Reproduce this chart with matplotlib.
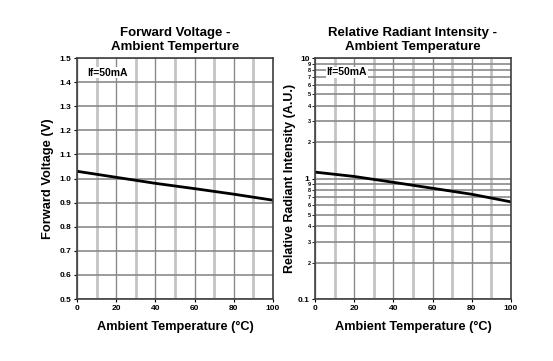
import numpy as np
import matplotlib.pyplot as plt
from matplotlib.ticker import FixedLocator, FixedFormatter

plt.rcParams['font.family'] = ['Liberation Sans', 'DejaVu Sans']
plt.rcParams['font.weight'] = 'bold'

## the data
temp = [0, 20, 40, 60, 80, 100]
vf = [1.03, 1.005, 0.98, 0.958, 0.935, 0.91]
intensity = [1.13, 1.04, 0.93, 0.83, 0.74, 0.64]

xticks = [0, 20, 40, 60, 80, 100]
xminor = [10, 30, 50, 70, 90]
dark = '#8a8a8a'
light = '#c4c4c4'

fig = plt.figure(figsize=(5.53, 3.61), dpi=100)
ax1 = fig.add_axes([0.1392, 0.1717, 0.3544, 0.6676])
ax2 = fig.add_axes([0.5696, 0.1717, 0.3544, 0.6676])

# forward voltage
ax1.plot(temp, vf, color='black', lw=2)
ax1.set_xlim(0, 100)
ax1.set_ylim(0.5, 1.5)
ax1.set_yticks(np.arange(0.5, 1.51, 0.1))
ax1.set_yticklabels(['%.1f' % v for v in np.arange(0.5, 1.51, 0.1)])
ax1.grid(True, axis='y', color=dark, lw=1.2)
ax1.text(5, 1.46, 'If=50mA', fontsize=7.5, fontweight='bold', va='top',
         bbox=dict(facecolor='white', edgecolor='none', pad=0.5))
ax1.set_title('Forward Voltage -\nAmbient Temperture', fontsize=9.5,
              fontweight='bold', pad=6, linespacing=1.15)
ax1.set_ylabel('Forward Voltage (V)', fontsize=9.3, fontweight='bold', labelpad=4)

# relative radiant intensity
ax2.plot(temp, intensity, color='black', lw=2)
ax2.set_yscale('log')
ax2.set_xlim(0, 100)
ax2.set_ylim(0.1, 10)
ax2.yaxis.set_major_locator(FixedLocator([0.1, 1, 10]))
ax2.yaxis.set_major_formatter(FixedFormatter(['0.1', '1', '10']))
minors = []
minor_lbl = []
for dec in [0.1, 1]:
    for k in range(2, 10):
        minors.append(k * dec)
        minor_lbl.append(str(k))
ax2.yaxis.set_minor_locator(FixedLocator(minors))
ax2.yaxis.set_minor_formatter(FixedFormatter(minor_lbl))
ax2.tick_params(axis='y', which='minor', labelsize=4, length=2, pad=1)
ax2.grid(True, axis='y', which='both', color=dark, lw=1.2)
ax2.text(6, 7.6, 'If=50mA', fontsize=7.5, fontweight='bold', va='center',
         bbox=dict(facecolor='white', edgecolor='none', pad=0.5))
ax2.set_title('Relative Radiant Intensity -\nAmbient Temperature', fontsize=9.5,
              fontweight='bold', pad=6, linespacing=1.15)
ax2.set_ylabel('Relative Radiant Intensity (A.U.)', fontsize=9,
               fontweight='bold', labelpad=1)

for ax in (ax1, ax2):
    ax.set_xticks(xticks)
    ax.set_xticks(xminor, minor=True)
    ax.grid(True, axis='x', which='major', color=dark, lw=1.0)
    ax.grid(True, axis='x', which='minor', color=light, lw=2.0)
    ax.set_xlabel('Ambient Temperature (\u00b0C)', fontsize=9.2, fontweight='bold', labelpad=7)
    ax.tick_params(axis='both', which='major', labelsize=6, length=2, pad=2)
    ax.tick_params(axis='x', which='minor', length=0)
    for lbl in ax.get_xticklabels() + ax.get_yticklabels():
        lbl.set_fontweight('bold')
    for s in ax.spines.values():
        s.set_color('#404040')
        s.set_linewidth(1.2)
    ax.set_axisbelow(True)

plt.savefig('out.png', dpi=100)
